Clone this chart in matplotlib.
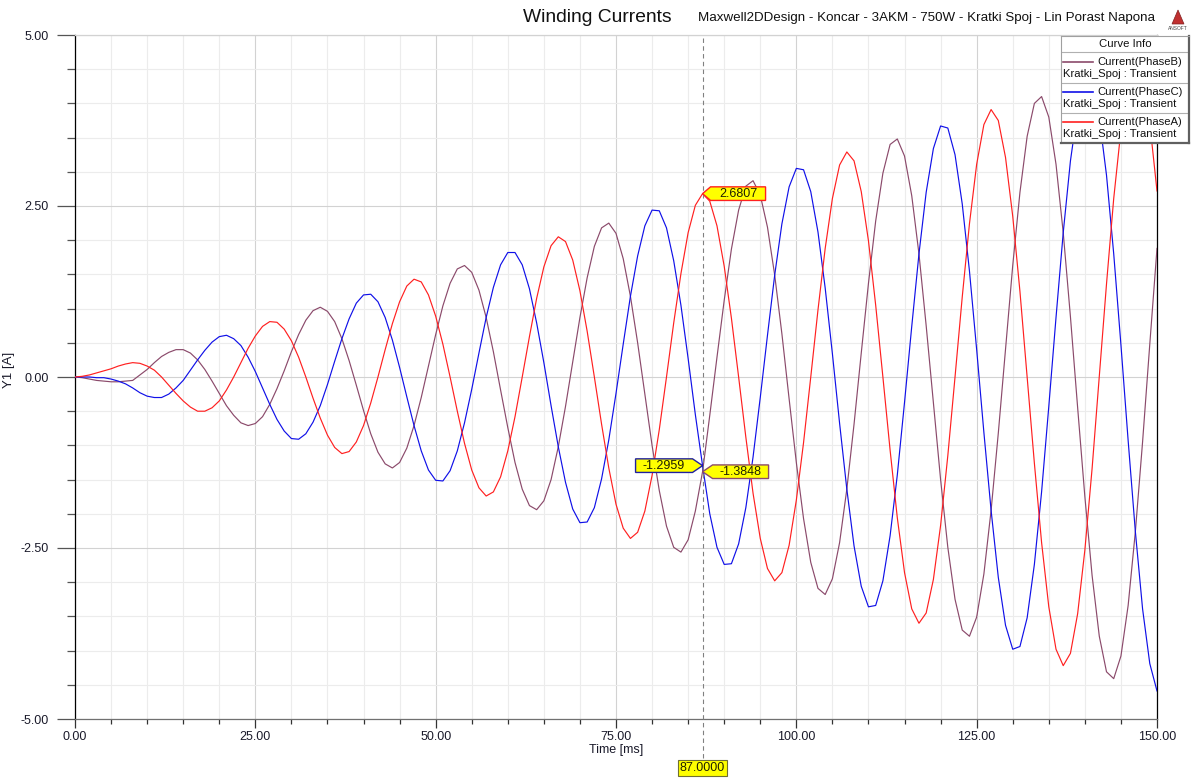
import numpy as np
import matplotlib.pyplot as plt
from matplotlib.patches import Polygon
from matplotlib.ticker import MultipleLocator, FormatStrFormatter
from matplotlib.transforms import ScaledTranslation

plt.rcParams['font.family'] = ['Liberation Sans', 'DejaVu Sans']

# Time axis, one sample per millisecond
time_ms = np.arange(0, 151)

# Current(PhaseA) [A]
phase_a = [
    0.00, 0.01, 0.03, 0.06, 0.09, 0.12, 0.16, 0.19, 0.21, 0.20, 0.16, 0.10, 0.00, -0.12, -0.24, -0.35, -0.44, -0.50, -0.50, -0.45,
    -0.35, -0.19, 0.00, 0.21, 0.42, 0.60, 0.74, 0.81, 0.80, 0.70, 0.53, 0.29, 0.00, -0.31, -0.60, -0.85, -1.03, -1.12, -1.09, -0.95,
    -0.71, -0.38, 0.00, 0.40, 0.78, 1.10, 1.33, 1.43, 1.39, 1.20, 0.89, 0.48, 0.00, -0.50, -0.97, -1.36, -1.62, -1.74, -1.68, -1.46,
    -1.08, -0.58, 0.00, 0.59, 1.15, 1.61, 1.92, 2.05, 1.98, 1.71, 1.26, 0.67, 0.00, -0.69, -1.33, -1.86, -2.21, -2.36, -2.27, -1.96,
    -1.44, -0.77, 0.00, 0.79, 1.51, 2.11, 2.51, 2.6807, 2.57, 2.21, 1.62, 0.86, 0.00, -0.88, -1.70, -2.36, -2.80, -2.98, -2.86, -2.46,
    -1.80, -0.96, 0.00, 0.98, 1.88, 2.61, 3.10, 3.29, 3.16, 2.71, 1.99, 1.05, 0.00, -1.07, -2.06, -2.86, -3.39, -3.60, -3.45, -2.96,
    -2.17, -1.15, 0.00, 1.17, 2.24, 3.11, 3.69, 3.91, 3.75, 3.21, 2.35, 1.25, 0.00, -1.26, -2.42, -3.36, -3.98, -4.22, -4.04, -3.46,
    -2.53, -1.34, 0.00, 1.36, 2.61, 3.61, 4.28, 4.53, 4.34, 3.71, 2.72,
]

# Current(PhaseB) [A]
phase_b = [
    0.00, -0.01, -0.03, -0.05, -0.06, -0.07, -0.07, -0.06, -0.05, 0.03, 0.11, 0.21, 0.30, 0.36, 0.40, 0.40, 0.35, 0.25, 0.11, -0.06,
    -0.24, -0.42, -0.56, -0.67, -0.71, -0.68, -0.58, -0.40, -0.17, 0.09, 0.37, 0.62, 0.83, 0.97, 1.02, 0.96, 0.81, 0.56, 0.24, -0.12,
    -0.49, -0.83, -1.10, -1.27, -1.33, -1.25, -1.04, -0.71, -0.30, 0.16, 0.62, 1.04, 1.37, 1.58, 1.63, 1.53, 1.27, 0.87, 0.37, -0.19,
    -0.74, -1.25, -1.64, -1.88, -1.94, -1.81, -1.50, -1.02, -0.43, 0.22, 0.87, 1.45, 1.91, 2.18, 2.25, 2.10, 1.73, 1.18, 0.50, -0.25,
    -1.00, -1.66, -2.18, -2.49, -2.56, -2.38, -1.96, -1.3848, -0.56, 0.29, 1.12, 1.87, 2.44, 2.79, 2.87, 2.66, 2.19, 1.49, 0.63, -0.32,
    -1.25, -2.07, -2.71, -3.09, -3.18, -2.95, -2.42, -1.64, -0.69, 0.35, 1.37, 2.28, 2.98, 3.40, 3.48, 3.23, 2.65, 1.80, 0.75, -0.38,
    -1.50, -2.49, -3.25, -3.70, -3.79, -3.51, -2.88, -1.95, -0.82, 0.41, 1.63, 2.70, 3.52, 4.00, 4.10, 3.80, 3.11, 2.11, 0.88, -0.45,
    -1.75, -2.90, -3.79, -4.31, -4.41, -4.08, -3.34, -2.26, -0.95, 0.48, 1.88,
]

# Current(PhaseC) [A]
phase_c = [
    0.00, 0.00, 0.00, -0.01, -0.01, -0.03, -0.06, -0.10, -0.16, -0.23, -0.28, -0.30, -0.30, -0.25, -0.16, -0.05, 0.10, 0.25, 0.39, 0.51,
    0.59, 0.61, 0.56, 0.46, 0.29, 0.08, -0.16, -0.40, -0.62, -0.79, -0.90, -0.91, -0.83, -0.66, -0.42, -0.11, 0.23, 0.56, 0.85, 1.08,
    1.20, 1.21, 1.10, 0.87, 0.54, 0.14, -0.29, -0.71, -1.08, -1.36, -1.51, -1.52, -1.37, -1.08, -0.67, -0.18, 0.35, 0.87, 1.31, 1.64,
    1.82, 1.82, 1.64, 1.29, 0.79, 0.21, -0.42, -1.02, -1.54, -1.93, -2.13, -2.12, -1.91, -1.49, -0.92, -0.24, 0.48, 1.18, 1.77, 2.21,
    2.44, 2.43, 2.18, 1.70, 1.05, 0.27, -0.55, -1.2959, -2.00, -2.49, -2.74, -2.73, -2.44, -1.91, -1.17, -0.30, 0.61, 1.49, 2.24, 2.78,
    3.05, 3.03, 2.71, 2.12, 1.30, 0.34, -0.68, -1.64, -2.47, -3.06, -3.36, -3.34, -2.98, -2.32, -1.43, -0.37, 0.74, 1.80, 2.70, 3.34,
    3.67, 3.64, 3.25, 2.53, 1.55, 0.40, -0.81, -1.95, -2.93, -3.63, -3.98, -3.94, -3.52, -2.74, -1.68, -0.43, 0.87, 2.11, 3.16, 3.91,
    4.29, 4.25, 3.79, 2.95, 1.80, 0.47, -0.93, -2.26, -3.39, -4.19, -4.59,
]

curve_names = ["Current(PhaseB)", "Current(PhaseC)", "Current(PhaseA)"]
curve_colors = ["#8B4A6B", "#1010E8", "#FF2020"]
cursor_time = 87

W, H = 1196, 778
fig = plt.figure(figsize=(W / 100, H / 100), dpi=100)

# plot area in pixels: x 75..1157, y 35..719
ax = fig.add_axes([75 / W, 1 - 719 / H, (1157 - 75) / W, (719 - 35) / H])

series = {"Current(PhaseB)": phase_b, "Current(PhaseC)": phase_c, "Current(PhaseA)": phase_a}
for name, col in zip(curve_names, curve_colors):
    ax.plot(time_ms, series[name], color=col, lw=0.85, zorder=3)

ax.set_xlim(0, 150)
ax.set_ylim(-5, 5)
ax.xaxis.set_major_locator(MultipleLocator(25))
ax.xaxis.set_minor_locator(MultipleLocator(5))
ax.yaxis.set_major_locator(MultipleLocator(2.5))
ax.yaxis.set_minor_locator(MultipleLocator(0.5))
ax.xaxis.set_major_formatter(FormatStrFormatter('%.2f'))
ax.yaxis.set_major_formatter(FormatStrFormatter('%.2f'))

ax.grid(which='major', color='#d2d2d2', lw=0.8, zorder=0)
ax.grid(which='minor', color='#ececec', lw=0.8, zorder=0)
ax.set_axisbelow(True)

ax.tick_params(axis='y', which='major', direction='out', length=13, width=0.9,
               color='#555555', labelsize=9, labelcolor='#1a1a2a', pad=6)
ax.tick_params(axis='y', which='minor', direction='out', length=5.5, width=0.9, color='#555555')
ax.tick_params(axis='x', which='major', direction='out', length=6.5, width=0.9,
               color='#333333', labelsize=9, labelcolor='#1a1a2a', pad=2)
ax.tick_params(axis='x', which='minor', direction='out', length=3.5, width=0.9, color='#333333')

ax.spines['left'].set_color('#000000')
ax.spines['right'].set_color('#000000')
ax.spines['bottom'].set_color('#707070')
ax.spines['top'].set_color('#d2d2d2')
for s in ax.spines.values():
    s.set_linewidth(0.9)

ax.set_xlabel("Time [ms]", fontsize=9, color='#1a1a2a')
ax.xaxis.set_label_coords(0.5, -0.037)
ax.set_ylabel("Y1 [A]", fontsize=9.5, color='#1a1a2a')
ax.yaxis.set_label_coords(-0.055, 0.51)

# titles
fig.text(523 / W, 1 - 18 / H, "Winding Currents", fontsize=13.9, va='center', ha='left', color='#111111')
fig.text(698 / W, 1 - 18 / H, "Maxwell2DDesign - Koncar - 3AKM - 750W - Kratki Spoj - Lin Porast Napona",
         fontsize=9.6, va='center', ha='left', color='#111111')

# ANSOFT logo
logo = Polygon([(1172 / W, 1 - 24 / H), (1184 / W, 1 - 24 / H), (1178 / W, 1 - 10 / H)],
               closed=True, transform=fig.transFigure, fc='#c03030', ec='#802020', lw=0.5)
fig.add_artist(logo)
fig.text(1178 / W, 1 - 28 / H, "ANSOFT", fontsize=3.5, ha='center', va='center', color='#444444')

# cursor line at t = 87 ms
ax.axvline(cursor_time, ymin=-0.057, ymax=1, color='#808080', lw=0.8,
           dashes=(4, 3), clip_on=False, zorder=4)
ax.text(cursor_time, -0.0715, "%.4f" % cursor_time, transform=ax.get_xaxis_transform(),
        ha='center', va='center', fontsize=9, color='#202000', zorder=6,
        bbox=dict(boxstyle='square,pad=0.18', fc='#ffff00', ec='#707030', lw=0.8))


def value_tag(x, y, edge, side, tip, w, h=0.068):
    trans = fig.dpi_scale_trans + ScaledTranslation(x, y, ax.transData)
    if side == 'right':
        verts = [(0, 0), (tip, h), (tip + w, h), (tip + w, -h), (tip, -h)]
        cx = tip + w / 2
    else:
        verts = [(0, 0), (-tip, h), (-tip - w, h), (-tip - w, -h), (-tip, -h)]
        cx = -tip - w / 2
    ax.add_patch(Polygon(verts, closed=True, fc='#ffff00', ec=edge, lw=1.0,
                         transform=trans, clip_on=False, zorder=7))
    ax.text(cx, 0, "%.4f" % y, transform=trans, ha='center', va='center',
            fontsize=9, color='#202000', zorder=8)


i = int(np.where(time_ms == cursor_time)[0][0])
value_tag(cursor_time, phase_a[i], '#ff2020', 'right', 0.08, 0.55)
value_tag(cursor_time, phase_b[i], '#8B4A6B', 'right', 0.10, 0.56)
value_tag(cursor_time, phase_c[i], '#2020a0', 'left', 0.10, 0.57)

# Curve Info box, drawn in pixel coordinates
lg = fig.add_axes([1061 / W, 1 - 143 / H, (1189 - 1061) / W, (143 - 36) / H])
lg.set_xlim(1061, 1189)
lg.set_ylim(143, 36)
lg.set_xticks([])
lg.set_yticks([])
for side in ['left', 'top']:
    lg.spines[side].set_color('#a0a0a0')
for side in ['right', 'bottom']:
    lg.spines[side].set_color('#606060')
    lg.spines[side].set_linewidth(1.6)
lg.text(1125, 44, "Curve Info", fontsize=8.2, ha='center', va='center', color='#111111')
lg.axhline(52, color='#b0b0b0', lw=0.8)
for k, (name, col) in enumerate(zip(curve_names, curve_colors)):
    y0 = 62 + 30 * k
    lg.plot([1063, 1093], [y0, y0], color=col, lw=1.2)
    lg.text(1097, y0, name, fontsize=8.1, ha='left', va='center', color='#111111')
    lg.text(1063, y0 + 12, "Kratki_Spoj : Transient", fontsize=8.1, ha='left', va='center', color='#111111')
    if k < 2:
        lg.axhline(y0 + 21, color='#b0b0b0', lw=0.8)

fig.savefig("out.png", dpi=100)
